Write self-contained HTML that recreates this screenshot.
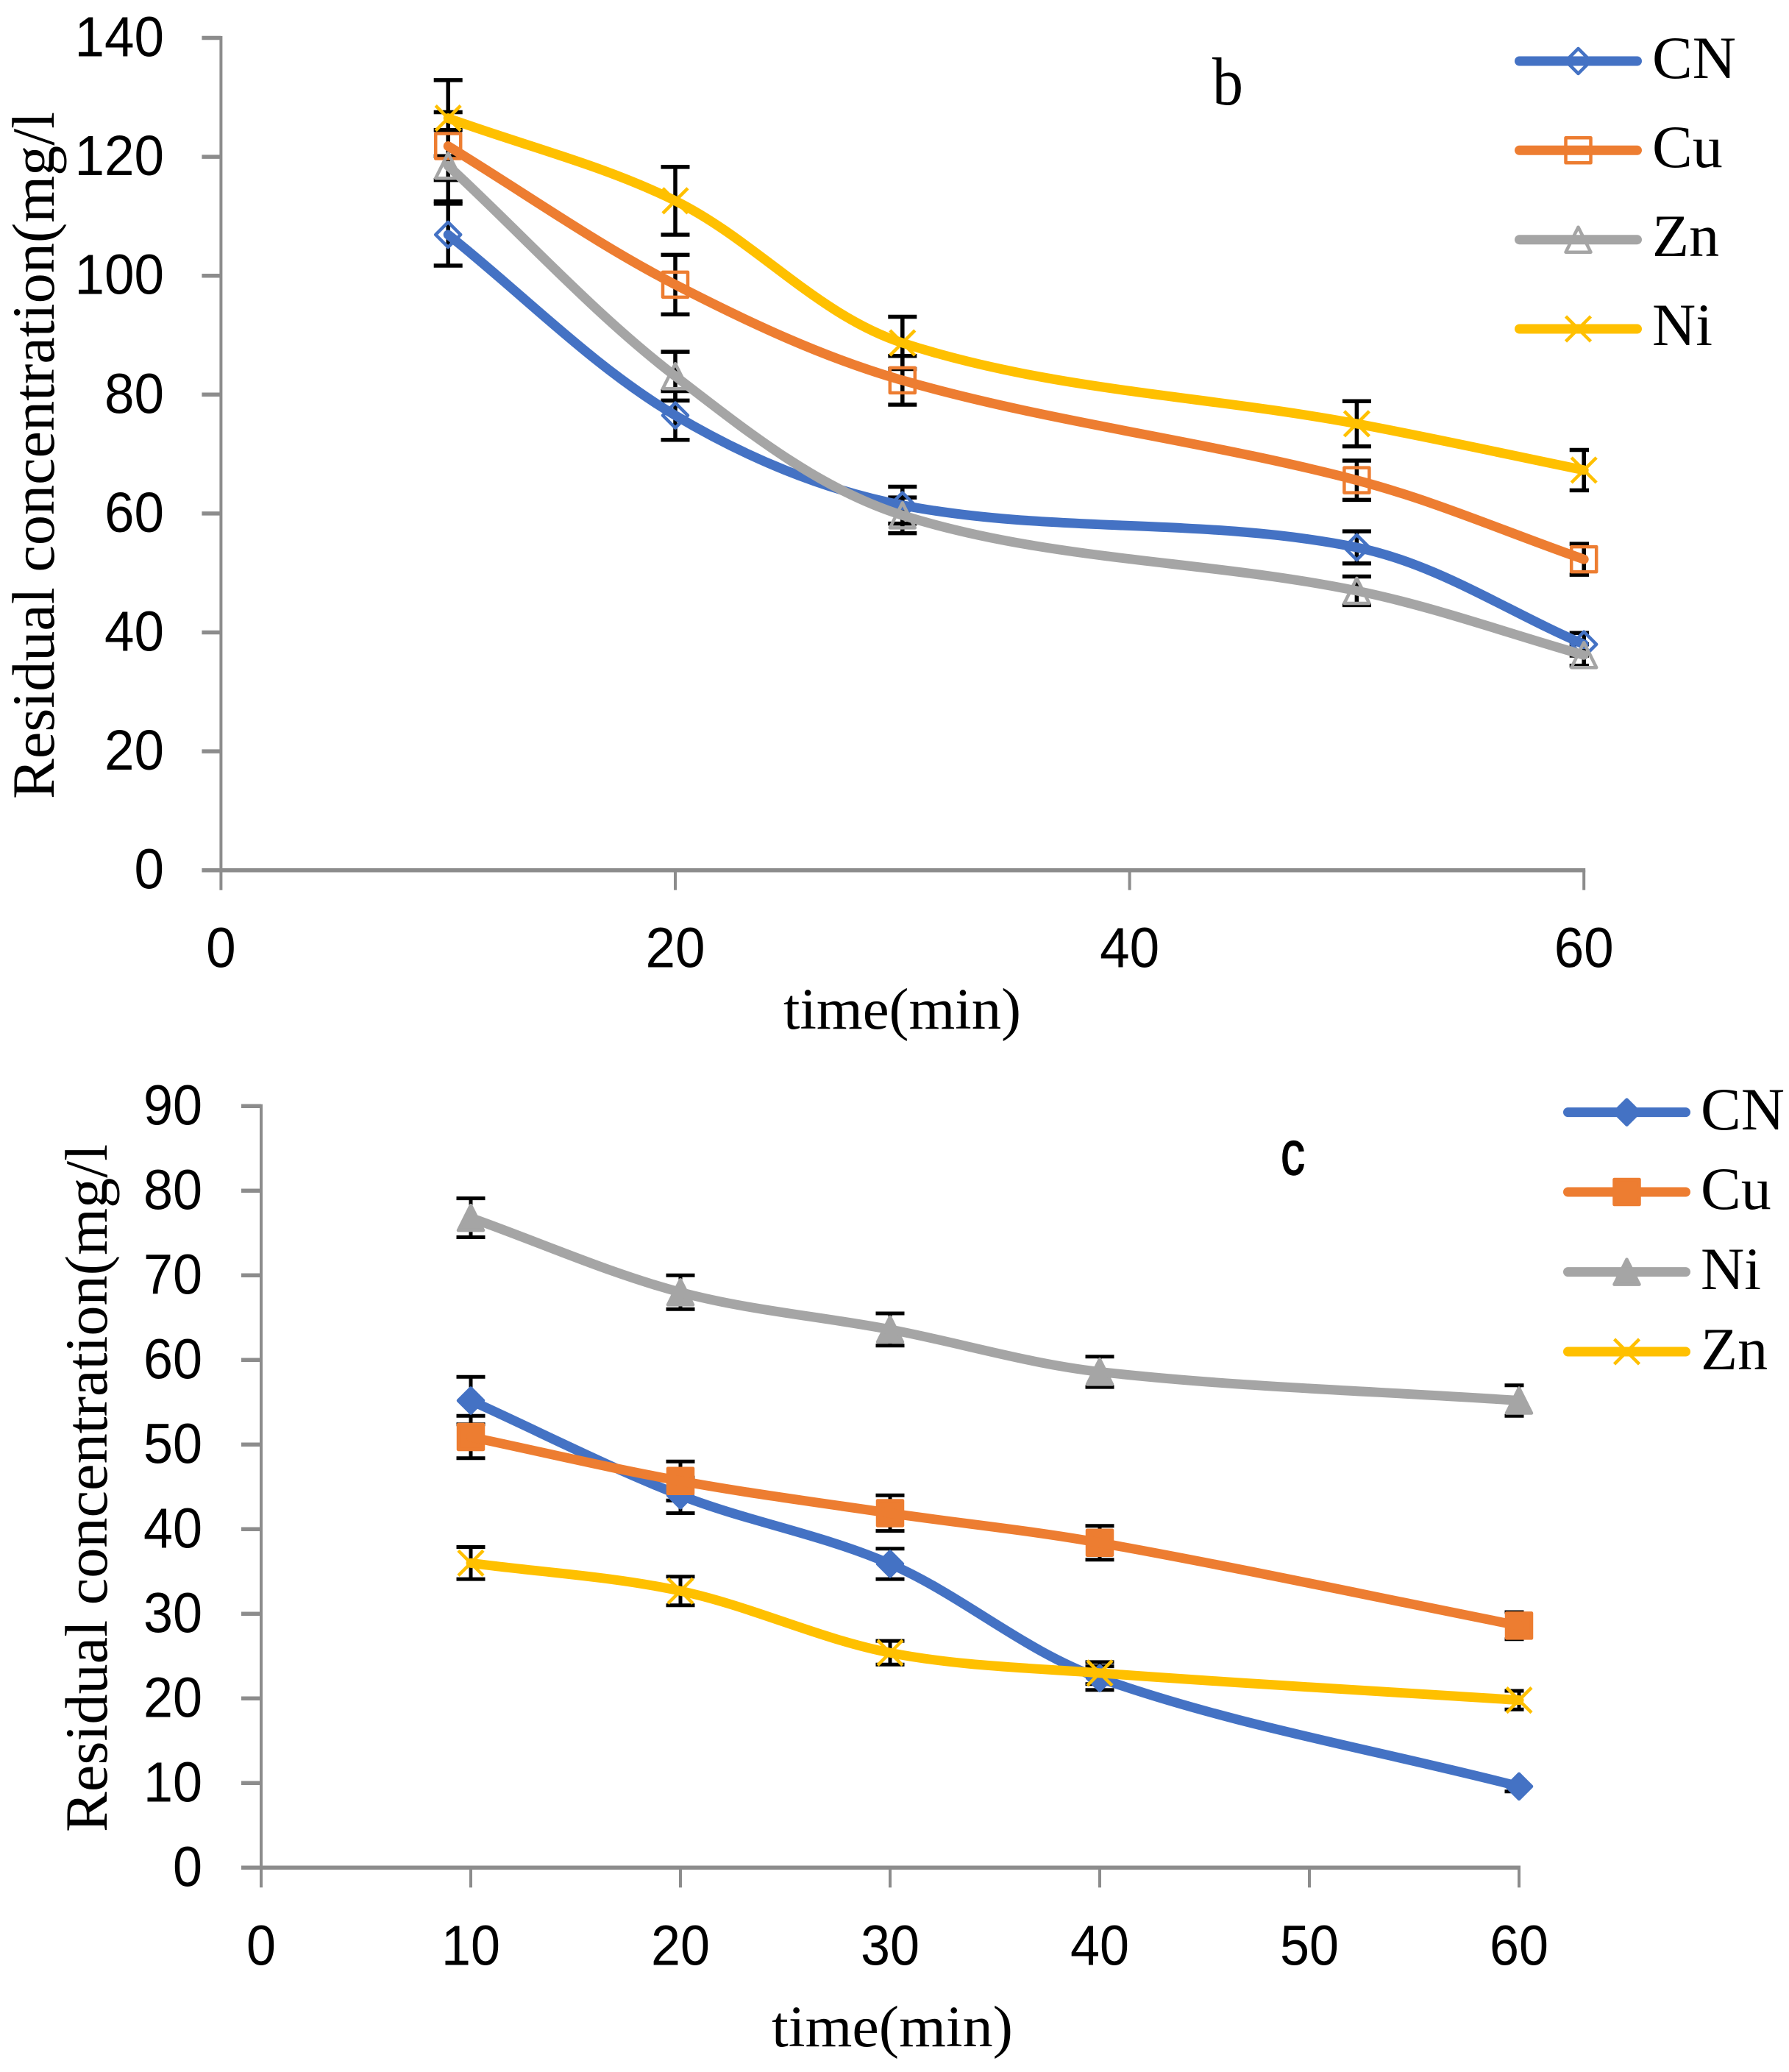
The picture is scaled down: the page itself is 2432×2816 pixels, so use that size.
<!DOCTYPE html>
<html lang="en">
<head>
<meta charset="utf-8">
<title>Residual concentration charts</title>
<style>
html,body{margin:0;padding:0;background:#fff;width:2432px;height:2816px;overflow:hidden}
svg{display:block}
.tick{font-family:"Liberation Sans",sans-serif;font-size:77px;fill:#000}
.serif{font-family:"Liberation Serif",serif;fill:#000}
</style>
</head>
<body>
<svg id="figure" xmlns="http://www.w3.org/2000/svg" width="2432" height="2816" viewBox="0 0 2432 2816">
  <rect width="2432" height="2816" fill="#fff"/>
  <defs>
    <clipPath id="clip-b"><rect x="0" y="0" width="2160" height="1400"/></clipPath>
    <clipPath id="clip-c"><rect x="0" y="1400" width="2071.5" height="1416"/></clipPath>
  </defs>
  <g id="chart-b">
    <text class="serif" font-size="82" textLength="934" lengthAdjust="spacingAndGlyphs" transform="translate(73 1086) rotate(-90)">Residual concentration(mg/l</text>
    <text class="serif" font-size="79" x="1065" y="1398" textLength="323" lengthAdjust="spacingAndGlyphs">time(min)</text>
    <text class="serif" font-size="92" x="1648" y="142" textLength="42" lengthAdjust="spacingAndGlyphs">b</text>
    <text class="serif" font-size="82" x="2246" y="106">CN</text>
    <text class="serif" font-size="82" x="2246" y="227">Cu</text>
    <text class="serif" font-size="82" x="2246" y="348">Zn</text>
    <text class="serif" font-size="82" x="2246" y="469">Ni</text>
  </g>
  <g id="chart-c">
    <text class="serif" font-size="82" textLength="935" lengthAdjust="spacingAndGlyphs" transform="translate(145 2490) rotate(-90)">Residual concentration(mg/l</text>
    <text class="serif" font-size="79" x="1049" y="2781" textLength="328" lengthAdjust="spacingAndGlyphs">time(min)</text>
    <text font-family="Liberation Sans, sans-serif" font-size="84" stroke="#000" stroke-width="1.5" x="1741" y="1596" textLength="33" lengthAdjust="spacingAndGlyphs">c</text>
    <text class="serif" font-size="82" x="2312" y="1535">CN</text>
    <text class="serif" font-size="82" x="2312" y="1643">Cu</text>
    <text class="serif" font-size="82" x="2312" y="1752">Ni</text>
    <text class="serif" font-size="82" x="2312" y="1861">Zn</text>
  </g>
</svg>
<script>
// Chart b data
const bTimes = [10, 20, 30, 50, 60];
const bCN = [106.9, 76.5, 61.4, 54.3, 38];
const bCu = [121.8, 98.5, 82.4, 65.6, 52.3];
const bZn = [118.5, 83.1, 59.7, 47, 36.2];
const bNi = [126.5, 112.6, 88.7, 75.1, 67.3];
const bCNErr = [5.2, 4.1, 3.1, 2.7, 1.9];
const bCuErr = [5.7, 5, 4.1, 3.3, 2.6];
const bZnErr = [6, 4.1, 3, 2.4, 1.8];
const bNiErr = [6.4, 5.7, 4.4, 3.8, 3.4];
const bYTicks = [0, 20, 40, 60, 80, 100, 120, 140];
const bXTicks = [0, 20, 40, 60];
// Chart c data
const cTimes = [10, 20, 30, 40, 60];
const cCN = [55.2, 44, 35.9, 22.4, 9.6];
const cCu = [50.9, 45.7, 41.9, 38.4, 28.6];
const cNi = [76.8, 68, 63.6, 58.6, 55.2];
const cZn = [36, 32.7, 25.4, 23, 19.8];
const cCNErr = [2.8, 2.1, 1.8, 1.4, 0.6];
const cCuErr = [2.5, 2.3, 2.1, 2, 1.6];
const cNiErr = [2.3, 2, 1.9, 1.8, 1.8];
const cZnErr = [1.9, 1.7, 1.4, 1.3, 1.1];
const cYTicks = [0, 10, 20, 30, 40, 50, 60, 70, 80, 90];
const cXTicks = [0, 10, 20, 30, 40, 50, 60];

const NS = 'http://www.w3.org/2000/svg';
const BLUE = '#4472C4', ORANGE = '#ED7D31', GREY = '#A5A5A5', GOLD = '#FFC000', AXIS = '#8C8C8C';

const xB = v => 300.4 + 30.88 * v;
const yB = v => 1182.7 - 8.08 * v;
const xC = v => 355 + 28.5 * v;
const yC = v => 2538.3 - 11.5 * v;

function make(tag, attrs, parent) {
  const node = document.createElementNS(NS, tag);
  for (const k in attrs) node.setAttribute(k, attrs[k]);
  parent.appendChild(node);
  return node;
}

function drawAxes(parent, id, xs, ys, xTicks, yTicks, opts) {
  const x0 = xs(0), y0 = ys(0);
  const top = ys(yTicks[yTicks.length - 1]);
  const right = xs(xTicks[xTicks.length - 1]);
  const yAxis = make('line', {x1: x0, x2: x0, y1: top - 2.5, y2: y0 + opts.tickDown, stroke: AXIS, 'stroke-width': 4}, parent);
  
  
  const xAxis = make('line', {x1: x0 - opts.tickLeft, x2: right + 2, y1: y0, y2: y0, stroke: AXIS, 'stroke-width': 5.5}, parent);
  
  
  yTicks.forEach(t => {
    if (t !== 0) {
      const mark = make('line', {x1: x0 - opts.tickLeft, x2: x0, y1: ys(t), y2: ys(t), stroke: AXIS, 'stroke-width': 5.5}, parent);
      
      
    }
    const label = make('text', {class: 'tick', x: opts.yLabelRight, y: ys(t) + 25, 'text-anchor': 'end', textLength: String(t).length * opts.charW, lengthAdjust: 'spacingAndGlyphs'}, parent);
    label.textContent = t;
    
    
  });
  xTicks.forEach(t => {
    if (t !== 0) {
      const mark = make('line', {x1: xs(t), x2: xs(t), y1: y0, y2: y0 + opts.tickDown, stroke: AXIS, 'stroke-width': 4}, parent);
      
      
    }
    const label = make('text', {class: 'tick', x: xs(t), y: y0 + opts.xLabelDrop, 'text-anchor': 'middle', textLength: String(t).length * opts.charW, lengthAdjust: 'spacingAndGlyphs'}, parent);
    label.textContent = t;
    
    
  });
}

function drawErrorBars(parent, id, key, times, vals, errs, xs, ys, clipId, sw) {
  const g = make('g', {'clip-path': 'url(#' + clipId + ')'}, parent);
  
  
  times.forEach((t, i) => {
    const x = xs(t), hi = ys(vals[i] + errs[i]), lo = ys(vals[i] - errs[i]);
    const bar = make('path', {d: 'M' + x + ' ' + hi + 'V' + lo + 'M' + (x - 19.5) + ' ' + hi + 'H' + (x + 19.5) + 'M' + (x - 19.5) + ' ' + lo + 'H' + (x + 19.5), stroke: '#000', 'stroke-width': sw, fill: 'none'}, g);
    
    
  });
}

function smoothPath(pts) {
  let d = 'M' + pts[0][0] + ' ' + pts[0][1];
  for (let i = 0; i < pts.length - 1; i++) {
    const p0 = pts[Math.max(i - 1, 0)], p1 = pts[i], p2 = pts[i + 1], p3 = pts[Math.min(i + 2, pts.length - 1)];
    const len = Math.hypot(p2[0] - p1[0], p2[1] - p1[1]);
    const l1 = Math.hypot(p2[0] - p0[0], p2[1] - p0[1]) || 1;
    const l2 = Math.hypot(p3[0] - p1[0], p3[1] - p1[1]) || 1;
    const c1x = p1[0] + (p2[0] - p0[0]) / l1 * len / 3;
    const c1y = p1[1] + (p2[1] - p0[1]) / l1 * len / 3;
    const c2x = p2[0] - (p3[0] - p1[0]) / l2 * len / 3;
    const c2y = p2[1] - (p3[1] - p1[1]) / l2 * len / 3;
    d += 'C' + c1x + ' ' + c1y + ' ' + c2x + ' ' + c2y + ' ' + p2[0] + ' ' + p2[1];
  }
  return d;
}

function markerNode(parent, shape, cx, cy, color, filled) {
  const r = 17, sw = 4.5;
  const style = {stroke: color, 'stroke-width': sw, 'stroke-linejoin': 'round', fill: filled ? color : 'none'};
  let d;
  if (shape === 'diamond') d = 'M' + cx + ' ' + (cy - r) + 'L' + (cx + r) + ' ' + cy + 'L' + cx + ' ' + (cy + r) + 'L' + (cx - r) + ' ' + cy + 'Z';
  else if (shape === 'square') d = 'M' + (cx - r) + ' ' + (cy - r) + 'H' + (cx + r) + 'V' + (cy + r) + 'H' + (cx - r) + 'Z';
  else if (shape === 'triangle') d = 'M' + cx + ' ' + (cy - r) + 'L' + (cx + r) + ' ' + (cy + r) + 'H' + (cx - r) + 'Z';
  else d = 'M' + (cx - r) + ' ' + (cy - r) + 'L' + (cx + r) + ' ' + (cy + r) + 'M' + (cx + r) + ' ' + (cy - r) + 'L' + (cx - r) + ' ' + (cy + r);
  return make('path', Object.assign({d: d}, style), parent);
}

function drawSeries(parent, id, key, shape, color, filled, times, vals, xs, ys) {
  const g = make('g', {}, parent);
  
  
  const pts = times.map((t, i) => [xs(t), ys(vals[i])]);
  pts.forEach((p, i) => {
    const m = markerNode(g, shape, p[0], p[1], color, filled);
    
    
  });
  const line = make('path', {d: smoothPath(pts), fill: 'none', stroke: color, 'stroke-width': 13, 'stroke-linecap': 'round', 'stroke-linejoin': 'round'}, g);
  
  
}

function drawLegendEntry(parent, id, key, shape, color, filled, x1, x2, y) {
  const g = make('g', {}, parent);
  
  
  const m = markerNode(g, shape, (x1 + x2) / 2, y, color, filled);
  
  
  const l = make('line', {x1: x1 + 6.5, x2: x2 - 6.5, y1: y, y2: y, stroke: color, 'stroke-width': 13, 'stroke-linecap': 'round'}, g);
  
  
}

const chartB = document.getElementById('chart-b');
const chartC = document.getElementById('chart-c');

drawAxes(chartB, 'b', xB, yB, bXTicks, bYTicks, {tickDown: 27, tickLeft: 26, yLabelRight: 223, xLabelDrop: 132, charW: 40.5});
drawErrorBars(chartB, 'b', 'cn', bTimes, bCN, bCNErr, xB, yB, 'clip-b', 5.5);
drawErrorBars(chartB, 'b', 'cu', bTimes, bCu, bCuErr, xB, yB, 'clip-b', 5.5);
drawErrorBars(chartB, 'b', 'zn', bTimes, bZn, bZnErr, xB, yB, 'clip-b', 5.5);
drawErrorBars(chartB, 'b', 'ni', bTimes, bNi, bNiErr, xB, yB, 'clip-b', 5.5);
drawSeries(chartB, 'b', 'cn', 'diamond', BLUE, false, bTimes, bCN, xB, yB);
drawSeries(chartB, 'b', 'cu', 'square', ORANGE, false, bTimes, bCu, xB, yB);
drawSeries(chartB, 'b', 'zn', 'triangle', GREY, false, bTimes, bZn, xB, yB);
drawSeries(chartB, 'b', 'ni', 'cross', GOLD, false, bTimes, bNi, xB, yB);
drawLegendEntry(chartB, 'b', 'cn', 'diamond', BLUE, false, 2059, 2232, 83);
drawLegendEntry(chartB, 'b', 'cu', 'square', ORANGE, false, 2059, 2232, 204.3);
drawLegendEntry(chartB, 'b', 'zn', 'triangle', GREY, false, 2059, 2232, 325.7);
drawLegendEntry(chartB, 'b', 'ni', 'cross', GOLD, false, 2059, 2232, 447);

drawAxes(chartC, 'c', xC, yC, cXTicks, cYTicks, {tickDown: 27, tickLeft: 27, yLabelRight: 275, xLabelDrop: 132, charW: 40});
drawErrorBars(chartC, 'c', 'cn', cTimes, cCN, cCNErr, xC, yC, 'clip-c', 5);
drawErrorBars(chartC, 'c', 'cu', cTimes, cCu, cCuErr, xC, yC, 'clip-c', 5);
drawErrorBars(chartC, 'c', 'ni', cTimes, cNi, cNiErr, xC, yC, 'clip-c', 5);
drawErrorBars(chartC, 'c', 'zn', cTimes, cZn, cZnErr, xC, yC, 'clip-c', 5);
drawSeries(chartC, 'c', 'cn', 'diamond', BLUE, true, cTimes, cCN, xC, yC);
drawSeries(chartC, 'c', 'cu', 'square', ORANGE, true, cTimes, cCu, xC, yC);
drawSeries(chartC, 'c', 'ni', 'triangle', GREY, true, cTimes, cNi, xC, yC);
drawSeries(chartC, 'c', 'zn', 'cross', GOLD, true, cTimes, cZn, xC, yC);
drawLegendEntry(chartC, 'c', 'cn', 'diamond', BLUE, true, 2125, 2298, 1511.6);
drawLegendEntry(chartC, 'c', 'cu', 'square', ORANGE, true, 2125, 2298, 1620);
drawLegendEntry(chartC, 'c', 'ni', 'triangle', GREY, true, 2125, 2298, 1728.6);
drawLegendEntry(chartC, 'c', 'zn', 'cross', GOLD, true, 2125, 2298, 1837);
</script>
</body>
</html>
